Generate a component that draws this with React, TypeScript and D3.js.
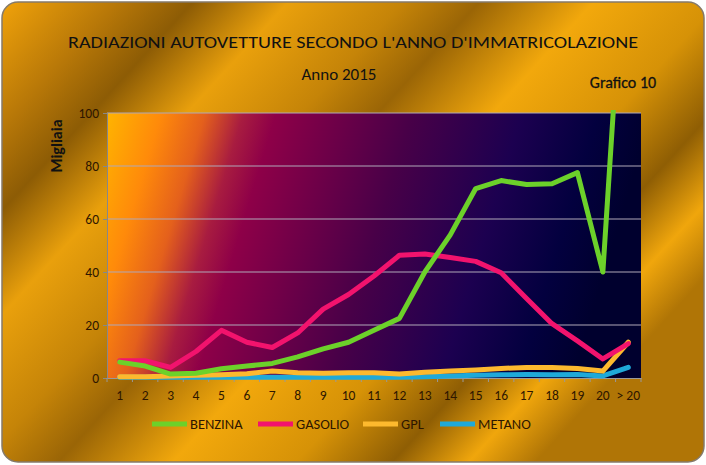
import React, { useEffect, useRef } from 'react';
import * as d3 from 'd3';

const W = 706;
const H = 465;
const margin = { top: 113, right: 65, bottom: 87, left: 107 };

const categories = ['1', '2', '3', '4', '5', '6', '7', '8', '9', '10', '11', '12', '13', '14', '15', '16', '17', '18', '19', '20', '> 20'];
const benzina = [6, 4.5, 1.5, 1.8, 3.5, 4.5, 5.5, 8, 11, 13.5, 18, 22.5, 40, 54, 71.5, 74.5, 73, 73.3, 77.5, 40, 188];
const gasolio = [6.5, 6.5, 4, 10, 18, 13.5, 11.5, 17, 26, 31.5, 38.5, 46.3, 46.8, 45.5, 44, 39.7, 30, 20.5, 14, 7.2, 13];
const gpl = [0.5, 0.5, 0.8, 1, 1.2, 1.6, 2.6, 2, 1.8, 2, 2, 1.5, 2.2, 2.6, 3, 3.6, 4, 4, 3.6, 2.6, 13.5];
const metano = [0.3, 0.3, 0.3, 0.3, 0.3, 0.3, 0.3, 0.3, 0.3, 0.3, 0.3, 0.3, 0.5, 0.8, 1, 1.2, 1.3, 1.2, 1.3, 0.8, 4];
const yTicks = [0, 20, 40, 60, 80, 100];

const series = [
  { name: 'BENZINA', values: benzina, color: '#6cd12a' },
  { name: 'GASOLIO', values: gasolio, color: '#f2136d' },
  { name: 'GPL', values: gpl, color: '#fdb92e' },
  { name: 'METANO', values: metano, color: '#1fa9d8' },
];

const font = 'Carlito, "Open Sans", "DejaVu Sans", sans-serif';
const textColor = '#2e1600';

export default function App() {
  const ref = useRef<SVGSVGElement>(null);

  useEffect(() => {
    document.body.style.margin = '0';
    if (!ref.current) return;
    const svg = d3.select(ref.current);
    svg.selectAll('*').remove();

    const gw = W - margin.left - margin.right;
    const gh = H - margin.top - margin.bottom;

    const defs = svg.append('defs');
    const gold = defs.append('linearGradient').attr('id', 'gold')
      .attr('x1', '0').attr('y1', '0').attr('x2', '1').attr('y2', '0.6');
    [
      [0, '#f0a20a'], [0.12, '#b87808'], [0.2, '#8d5c05'], [0.3, '#e9a00c'],
      [0.42, '#c58408'], [0.5, '#9a6506'], [0.62, '#f2a80c'], [0.75, '#d69207'],
      [0.85, '#8f5e04'], [0.93, '#f0a60c'], [1, '#b07506'],
    ].forEach(([o, c]) => gold.append('stop').attr('offset', o as number).attr('stop-color', c as string));

    const plotGrad = defs.append('linearGradient').attr('id', 'plotbg')
      .attr('x1', '0').attr('y1', '0').attr('x2', '1').attr('y2', '0.15');
    [
      [0, '#ffb400'], [0.1, '#ff8a0a'], [0.18, '#e4601c'], [0.25, '#a81c40'],
      [0.31, '#8e0048'], [0.56, '#480048'], [0.76, '#1c0050'], [0.9, '#03003f'], [1, '#00002e'],
    ].forEach(([o, c]) => plotGrad.append('stop').attr('offset', o as number).attr('stop-color', c as string));

    defs.append('clipPath').attr('id', 'clip')
      .append('rect').attr('x', 0).attr('y', -3).attr('width', gw).attr('height', gh + 6);

    svg.append('rect')
      .attr('x', 2).attr('y', 2).attr('width', W - 4).attr('height', H - 5)
      .attr('rx', 16).attr('fill', 'url(#gold)')
      .attr('stroke', '#857a6a').attr('stroke-width', 1.5);

    svg.append('text').attr('x', 353).attr('y', 48).attr('text-anchor', 'middle')
      .attr('font-family', font).attr('font-size', 17).attr('fill', '#111')
      .attr('textLength', 570).attr('lengthAdjust', 'spacingAndGlyphs')
      .text('RADIAZIONI  AUTOVETTURE SECONDO L\'ANNO D\'IMMATRICOLAZIONE');
    svg.append('text').attr('x', 339).attr('y', 80).attr('text-anchor', 'middle')
      .attr('font-family', font).attr('font-size', 17).attr('fill', '#111')
      .text('Anno 2015');
    svg.append('text').attr('x', 623).attr('y', 88).attr('text-anchor', 'middle')
      .attr('font-family', font).attr('font-size', 16).attr('fill', '#111')
      .attr('stroke', '#111').attr('stroke-width', 0.3)
      .text('Grafico 10');

    const g = svg.append('g').attr('transform', `translate(${margin.left},${margin.top})`);

    g.append('rect').attr('width', gw).attr('height', gh).attr('fill', 'url(#plotbg)');

    const x = d3.scaleBand<string>().domain(categories).range([0, gw]);
    const y = d3.scaleLinear().domain([0, 100]).range([gh, 0]);

    // gridlines
    g.append('g').selectAll('line').data(yTicks.slice(1)).enter().append('line')
      .attr('x1', 0).attr('x2', gw)
      .attr('y1', (d) => y(d)).attr('y2', (d) => y(d))
      .attr('stroke', '#b0a8b8').attr('stroke-width', 1);

    const yAxis = g.append('g').call(d3.axisLeft(y).tickValues(yTicks).tickSize(4).tickPadding(4));
    yAxis.select('.domain').attr('stroke', '#888');
    yAxis.selectAll('.tick line').attr('stroke', '#888');
    yAxis.selectAll('text').attr('font-family', font).attr('font-size', 13.5).attr('fill', textColor);

    const xAxis = g.append('g').attr('transform', `translate(0,${gh})`)
      .call(d3.axisBottom(x).tickSize(0).tickPadding(12));
    xAxis.select('.domain').attr('stroke', '#999');
    xAxis.selectAll('text').attr('font-family', font).attr('font-size', 13.5).attr('fill', textColor);
    g.append('g').selectAll('line').data(d3.range(categories.length + 1)).enter().append('line')
      .attr('x1', (i) => i * x.step()).attr('x2', (i) => i * x.step())
      .attr('y1', gh).attr('y2', gh + 4).attr('stroke', '#999');

    const line = d3.line<number>()
      .x((_, i) => (x(categories[i]) ?? 0) + x.bandwidth() / 2)
      .y((d) => y(d));

    const lines = g.append('g').attr('clip-path', 'url(#clip)');
    [...series].reverse().forEach((s) => {
      lines.append('path').datum(s.values).attr('d', line)
        .attr('fill', 'none').attr('stroke', s.color).attr('stroke-width', 5)
        .attr('stroke-linejoin', 'round').attr('stroke-linecap', 'round');
    });

    svg.append('text')
      .attr('transform', `translate(62,${margin.top + 33}) rotate(-90)`)
      .attr('text-anchor', 'middle')
      .attr('font-family', font).attr('font-size', 16).attr('font-weight', 'bold').attr('fill', '#111')
      .text('Migliaia');

    // legend
    const legendX = [152, 258, 363, 440];
    series.forEach((s, i) => {
      const lg = svg.append('g').attr('transform', `translate(${legendX[i]},424)`);
      lg.append('line').attr('x1', 0).attr('x2', 35).attr('y1', 0).attr('y2', 0)
        .attr('stroke', s.color).attr('stroke-width', 5);
      lg.append('text').attr('x', 38).attr('y', 5)
        .attr('font-family', font).attr('font-size', 14.5).attr('fill', textColor)
        .text(s.name);
    });
  }, []);

  return <svg ref={ref} width={W} height={H} style={{ display: 'block' }} />;
}
